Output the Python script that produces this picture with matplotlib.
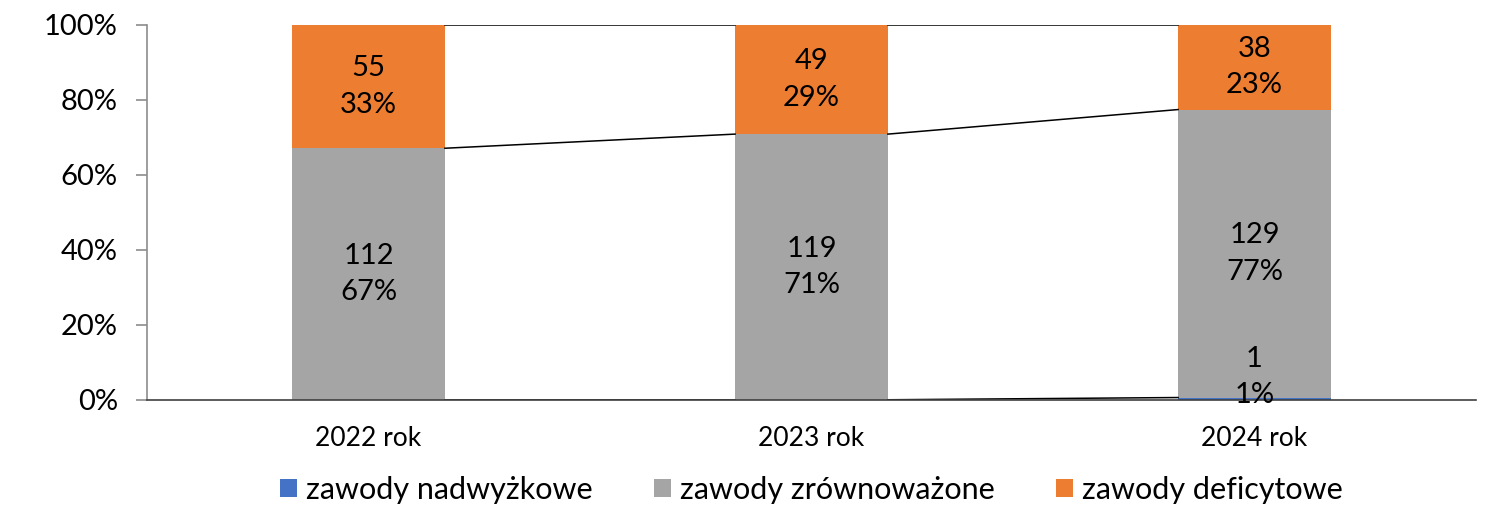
import matplotlib.pyplot as plt
import numpy as np

plt.rcParams['font.family'] = ['Lato', 'DejaVu Sans']

# dane z wykresu (liczba zawodów)
years = ['2022 rok', '2023 rok', '2024 rok']
nadwyzkowe = [0, 0, 1]
zrownowazone = [112, 119, 129]
deficytowe = [55, 49, 38]

names = ['zawody nadwyżkowe', 'zawody zrównoważone', 'zawody deficytowe']
colors = ['#4472C4', '#A5A5A5', '#ED7D31']

series = np.array([nadwyzkowe, zrownowazone, deficytowe], dtype=float)
totals = series.sum(axis=0)
shares = series / totals * 100

fig = plt.figure(figsize=(15, 5.26), dpi=100)
ax = fig.add_axes([0.098, 0.24, 0.886, 0.713])

x = np.arange(len(years))
width = 0.345
bottom = np.zeros(len(years))
tops = []
for i in range(3):
    ax.bar(x, shares[i], width, bottom=bottom, color=colors[i], label=names[i], zorder=2)
    for j in range(len(years)):
        val = series[i, j]
        if val == 0:
            continue
        yc = bottom[j] + shares[i, j] / 2
        txt = '%d\n%d%%' % (val, round(shares[i, j]))
        if shares[i, j] < 5:
            ax.annotate(txt, (x[j], yc), xytext=(0, -7), textcoords='offset points',
                        ha='center', va='bottom', fontsize=21, linespacing=1.5, zorder=4)
        else:
            ax.text(x[j], yc, txt, ha='center', va='center', fontsize=21,
                    linespacing=1.5, zorder=4)
    bottom = bottom + shares[i]
    tops.append(bottom.copy())

# linie serii pomiędzy słupkami
for level in tops:
    for j in range(len(years) - 1):
        ax.plot([x[j] + width / 2, x[j + 1] - width / 2], [level[j], level[j + 1]],
                color='black', lw=1.1, zorder=3)

ax.set_xlim(-0.5, 2.5)
ax.set_ylim(0, 100)
ax.set_yticks(np.arange(0, 101, 20))
ax.set_yticklabels(['%d%%' % v for v in range(0, 101, 20)])
ax.set_xticks(x)
ax.set_xticklabels(years)
ax.tick_params(axis='y', labelsize=21, length=8, color='#8C8C8C', width=1.2, pad=13)
ax.tick_params(axis='x', labelsize=19, length=0, pad=19)
for s in ['top', 'right']:
    ax.spines[s].set_visible(False)
ax.spines['left'].set_color('#8C8C8C')
ax.spines['left'].set_linewidth(1.2)
ax.spines['bottom'].set_color('#404040')
ax.spines['bottom'].set_linewidth(1.2)
ax.spines['bottom'].set_zorder(3)

ax.legend(loc='upper center', bbox_to_anchor=(0.5, -0.13), ncol=3, frameon=False,
          fontsize=22, handlelength=0.55, handleheight=0.55, handletextpad=0.3,
          columnspacing=2.0)

fig.savefig('out.png', dpi=100)
